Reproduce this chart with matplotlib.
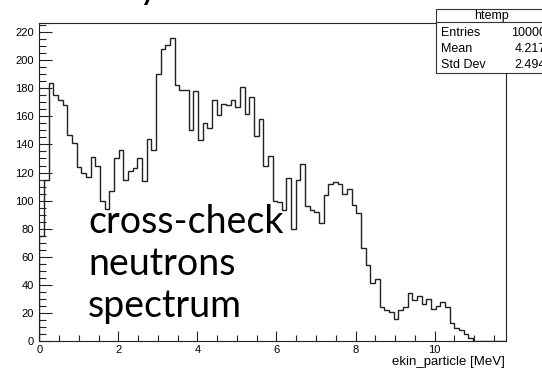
import numpy as np
import matplotlib
matplotlib.use("Agg")
import matplotlib.pyplot as plt
from matplotlib.patches import Rectangle
from matplotlib.ticker import MultipleLocator

# htemp: 100 bins from 0 to 11.8 MeV
x_min, x_max, n_bins = 0.0, 11.8, 100
counts = [75, 115, 184, 175, 172, 168, 147, 141, 124, 120,
          117, 131, 125, 100, 94, 107, 130, 136, 115, 121,
          123, 130, 114, 144, 136, 190, 208, 211, 216, 182,
          179, 179, 150, 178, 143, 155, 152, 172, 161, 169,
          168, 172, 167, 181, 162, 174, 146, 158, 125, 132,
          100, 99, 93, 116, 80, 115, 126, 96, 93, 92,
          84, 104, 112, 113, 112, 105, 108, 97, 91, 66,
          54, 41, 44, 24, 22, 21, 16, 22, 24, 34,
          29, 32, 26, 30, 23, 25, 28, 24, 13, 9,
          8, 5, 2, 0, 0, 0, 0, 0, 0, 0]

stat_names = ["Entries", "Mean", "Std Dev"]
stat_values = ["10000", "4.217", "2.494"]
note_lines = ["cross-check", "neutrons", "spectrum"]

W, H = 542, 369
plt.rcParams['font.family'] = ['Liberation Sans', 'DejaVu Sans']

fig = plt.figure(figsize=(W / 100, H / 100), dpi=100)
ax = fig.add_axes([39.3 / W, 1 - 341 / H, 466.4 / W, 318 / H])

edges = np.linspace(x_min, x_max, n_bins + 1)
ax.stairs(counts, edges, baseline=0, color='#222222', linewidth=1.0)

ax.set_xlim(x_min, x_max)
ax.set_ylim(0, 226.5)

ax.xaxis.set_major_locator(MultipleLocator(2))
ax.xaxis.set_minor_locator(MultipleLocator(0.5))
ax.yaxis.set_major_locator(MultipleLocator(20))
ax.yaxis.set_minor_locator(MultipleLocator(5))
ax.tick_params(axis='both', which='both', direction='in', colors='#222222',
               labelcolor='black', labelsize=8, width=0.8, top=False, right=False)
ax.tick_params(axis='x', which='major', length=7, pad=3)
ax.tick_params(axis='x', which='minor', length=4)
ax.tick_params(axis='y', which='major', length=9, pad=4)
ax.tick_params(axis='y', which='minor', length=5)
for sp in ax.spines.values():
    sp.set_color('#222222')
    sp.set_linewidth(0.8)

fig.text(505 / W, 1 - 362 / H, "ekin_particle [MeV]", ha='right', va='center', fontsize=9.5)

# big annotation text
for i, line in enumerate(note_lines):
    fig.text(88 / W, 1 - (233.5 + 41.7 * i) / H, line, ha='left', va='baseline',
             fontsize=27, family='Lato', color='black')

# fragment of a title above the plot
fig.text(139 / W, 1 + 2 / H, "y", ha='left', va='baseline', fontsize=28, family='Lato')

# stats box
bx0, bx1, by0, by1, byh = 435.7, 548, 9, 72.7, 22.3
box = Rectangle((bx0 / W, 1 - by1 / H), (bx1 - bx0) / W, (by1 - by0) / H,
                transform=fig.transFigure, facecolor='white', edgecolor='#333333',
                linewidth=0.8, zorder=5)
fig.add_artist(box)
fig.add_artist(plt.Line2D([bx0 / W, bx1 / W], [1 - byh / H, 1 - byh / H],
                          transform=fig.transFigure, color='#333333', linewidth=0.8, zorder=6))
fig.text((bx0 + bx1) / 2 / W, 1 - (by0 + byh) / 2 / H, "htemp", ha='center', va='center',
         fontsize=9, zorder=7)
for i, (name, val) in enumerate(zip(stat_names, stat_values)):
    yy = 1 - (33 + 16.2 * i) / H
    fig.text(441 / W, yy, name, ha='left', va='center', fontsize=9, zorder=7)
    fig.text(546 / W, yy, val, ha='right', va='center', fontsize=9, zorder=7)

fig.savefig("out.png", dpi=100)
